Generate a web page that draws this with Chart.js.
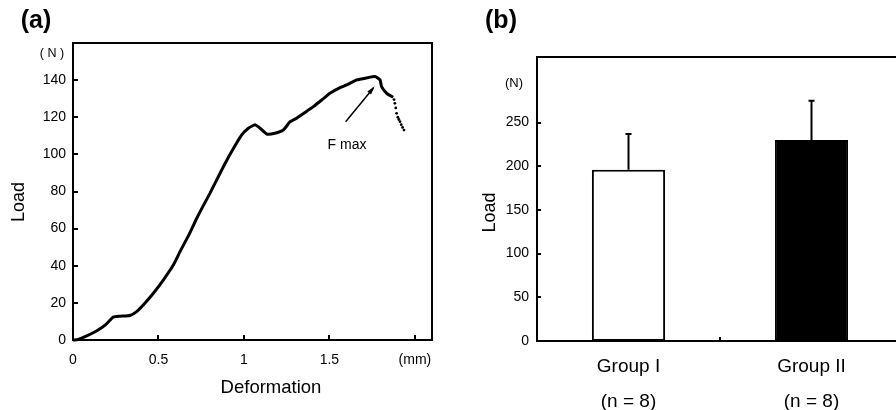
<!DOCTYPE html>
<html><head><meta charset="utf-8">
<script src="https://cdn.jsdelivr.net/npm/chart.js@4.4.1/dist/chart.umd.min.js"></script>
<style>
html,body{margin:0;padding:0;background:#fff;overflow:hidden;width:896px;height:410px;}
#wa{position:absolute;left:0;top:0;width:450px;height:410px;}
#wb{position:absolute;left:450px;top:0;width:460px;height:410px;}
canvas{display:block;}
</style></head><body>
<div id="wa"><canvas id="ca" width="450" height="410"></canvas></div>
<div id="wb"><canvas id="cb" width="460" height="410"></canvas></div>
<script>
// ---- (a) load-deformation curve ----
const deformation = [0, 0.03, 0.08, 0.14, 0.19, 0.236, 0.275, 0.333, 0.372, 0.411, 0.47, 0.528, 0.587, 0.626, 0.68, 0.724, 0.76, 0.801, 0.87, 0.928, 0.987, 1.026, 1.065, 1.094, 1.133, 1.181, 1.23, 1.27, 1.308, 1.356, 1.406, 1.455, 1.503, 1.562, 1.601, 1.66, 1.718, 1.767, 1.796, 1.805, 1.835, 1.873];
const load = [0, 0.3, 2.2, 5, 8.1, 12.4, 12.8, 13.2, 15.3, 18.9, 25.2, 32.3, 40.4, 47.6, 57, 65.6, 72, 79, 91.6, 101.5, 110.5, 114.1, 115.9, 114.1, 111, 111.4, 113.1, 117.6, 119.5, 122.5, 125.7, 129.3, 132.9, 136, 137.4, 140.1, 141.2, 141.9, 140.1, 136.5, 132.9, 130.8];
const tailDeformation = [1.878, 1.883, 1.888, 1.893, 1.900, 1.906, 1.913, 1.920, 1.928, 1.936];
const tailLoad = [129.5, 127.5, 125, 122.1, 120, 118.8, 117.6, 116, 114.5, 113.1];
const deformationTicks = [0, 0.5, 1, 1.5, 2];
const deformationTickLabels = ['0', '0.5', '1', '1.5', '(mm)'];
const loadTicksA = [0, 20, 40, 60, 80, 100, 120, 140];

// ---- (b) group means ----
const groups = [['Group I', '(n = 8)'], ['Group II', '(n = 8)']];
const meanLoad = [196, 230];
const sdLoad = [41, 45];
const loadTicksB = [0, 50, 100, 150, 200, 250];

Chart.defaults.font.family = "'Liberation Sans', Arial, Helvetica, sans-serif";
Chart.defaults.color = '#000';

function txt(ctx, s, x, y, size, bold, rot) {
  ctx.save();
  ctx.translate(x, y);
  if (rot) ctx.rotate(rot);
  ctx.font = (bold ? 'bold ' : '') + size + "px 'Liberation Sans', Arial, sans-serif";
  ctx.fillStyle = '#000';
  ctx.textAlign = 'center';
  ctx.textBaseline = 'middle';
  ctx.fillText(s, 0, 0);
  ctx.restore();
}

const decoA = {
  id: 'decoA',
  afterDraw(chart) {
    const {ctx, chartArea: a, scales: {x, y}} = chart;
    ctx.save();
    ctx.strokeStyle = '#000';
    ctx.lineWidth = 2;
    ctx.strokeRect(a.left, a.top, a.right - a.left, a.bottom - a.top);
    ctx.beginPath();
    loadTicksA.forEach(v => { const py = Math.round(y.getPixelForValue(v)); ctx.moveTo(a.left, py); ctx.lineTo(a.left + 5, py); });
    deformationTicks.forEach(v => { const px = Math.round(x.getPixelForValue(v)); ctx.moveTo(px, a.bottom); ctx.lineTo(px, a.bottom - 5); });
    ctx.stroke();
    // arrow to F max
    const x0 = x.getPixelForValue(1.595), y0 = y.getPixelForValue(117.6);
    const x1 = x.getPixelForValue(1.757), y1 = y.getPixelForValue(135.8);
    ctx.lineWidth = 1.5;
    ctx.beginPath(); ctx.moveTo(x0, y0); ctx.lineTo(x1, y1); ctx.stroke();
    const ang = Math.atan2(y1 - y0, x1 - x0);
    ctx.beginPath();
    ctx.moveTo(x1 + 2 * Math.cos(ang), y1 + 2 * Math.sin(ang));
    ctx.lineTo(x1 - 7 * Math.cos(ang - 0.35), y1 - 7 * Math.sin(ang - 0.35));
    ctx.lineTo(x1 - 7 * Math.cos(ang + 0.35), y1 - 7 * Math.sin(ang + 0.35));
    ctx.closePath(); ctx.fillStyle = '#000'; ctx.fill();
    ctx.restore();
    txt(ctx, '(a)', 36, 21, 25, true);
    txt(ctx, '( N )', 52, 54, 12.5);
    txt(ctx, 'F max', 347, 145, 14);
    txt(ctx, 'Load', 19, 202, 18, false, -Math.PI / 2);
    txt(ctx, 'Deformation', 271, 388, 18.5);
  }
};

new Chart(document.getElementById('ca'), {
  type: 'scatter',
  data: {
    datasets: [
      { data: deformation.map((d, i) => ({x: d, y: load[i]})), showLine: true, borderColor: '#000', borderWidth: 3, pointRadius: 0, tension: 0.15, clip: false },
      { data: tailDeformation.map((d, i) => ({x: d, y: tailLoad[i]})), showLine: false, pointRadius: 1.4, pointBackgroundColor: '#000', pointBorderWidth: 0, clip: false }
    ]
  },
  options: {
    responsive: false, animation: false, devicePixelRatio: 1,
    layout: {padding: {top: 43, right: 18, left: 0, bottom: 0}},
    plugins: {legend: {display: false}, tooltip: {enabled: false}},
    scales: {
      x: {
        type: 'linear', min: 0, max: 2.1,
        afterBuildTicks: s => { s.ticks = deformationTicks.map(v => ({value: v})); },
        afterFit: s => { s.height = 70; },
        grid: {display: false, drawTicks: false}, border: {display: false},
        ticks: {padding: 12, font: {size: 14}, color: '#000', maxRotation: 0, autoSkip: false,
          callback: (v) => deformationTickLabels[deformationTicks.indexOf(v)]}
      },
      y: {
        min: 0, max: 160,
        afterBuildTicks: s => { s.ticks = loadTicksA.map(v => ({value: v})); },
        afterFit: s => { s.width = 73; },
        grid: {display: false, drawTicks: false}, border: {display: false},
        ticks: {padding: 7, font: {size: 14}, color: '#000'}
      }
    }
  },
  plugins: [decoA]
});

const decoB = {
  id: 'decoB',
  afterDatasetsDraw(chart) {
    const {ctx, chartArea: a, scales: {x, y}} = chart;
    const meta = chart.getDatasetMeta(0);
    ctx.save();
    ctx.strokeStyle = '#000';
    ctx.lineWidth = 2;
    meta.data.forEach((el, i) => {
      const top = y.getPixelForValue(meanLoad[i] + sdLoad[i]);
      ctx.beginPath();
      ctx.moveTo(el.x, el.y); ctx.lineTo(el.x, top);
      ctx.moveTo(el.x - 3, top); ctx.lineTo(el.x + 3, top);
      ctx.stroke();
    });
    ctx.restore();
  },
  afterDraw(chart) {
    const {ctx, chartArea: a, scales: {x, y}} = chart;
    ctx.save();
    ctx.strokeStyle = '#000';
    ctx.lineWidth = 2;
    ctx.strokeRect(a.left, a.top, a.right - a.left, a.bottom - a.top);
    ctx.beginPath();
    loadTicksB.forEach(v => { const py = Math.round(y.getPixelForValue(v)); ctx.moveTo(a.left, py); ctx.lineTo(a.left + 4, py); });
    const mid = Math.round((x.getPixelForValue(0) + x.getPixelForValue(1)) / 2);
    ctx.moveTo(mid, a.bottom); ctx.lineTo(mid, a.bottom - 4);
    ctx.stroke();
    ctx.restore();
    txt(ctx, '(b)', 51, 21, 25, true);
    txt(ctx, '(N)', 64, 83, 13);
    txt(ctx, 'Load', 40, 212.5, 18, false, -Math.PI / 2);
  }
};

new Chart(document.getElementById('cb'), {
  type: 'bar',
  data: {
    labels: groups,
    datasets: [{ data: meanLoad, backgroundColor: ['#ffffff', '#000000'], borderColor: '#000', borderWidth: 2, borderSkipped: false, barPercentage: 0.4, categoryPercentage: 1 }]
  },
  options: {
    responsive: false, animation: false, devicePixelRatio: 1,
    layout: {padding: {top: 57, right: 7, left: 0, bottom: 0}},
    plugins: {legend: {display: false}, tooltip: {enabled: false}},
    scales: {
      x: {
        afterFit: s => { s.height = 69; },
        grid: {display: false, drawTicks: false}, border: {display: false},
        ticks: {padding: 8, font: {size: 19, lineHeight: 1.84}, color: '#000', maxRotation: 0}
      },
      y: {
        min: 0, max: 325,
        afterBuildTicks: s => { s.ticks = loadTicksB.map(v => ({value: v})); },
        afterFit: s => { s.width = 87; },
        grid: {display: false, drawTicks: false}, border: {display: false},
        ticks: {padding: 8, font: {size: 14}, color: '#000'}
      }
    }
  },
  plugins: [decoB]
});
</script>
</body></html>
